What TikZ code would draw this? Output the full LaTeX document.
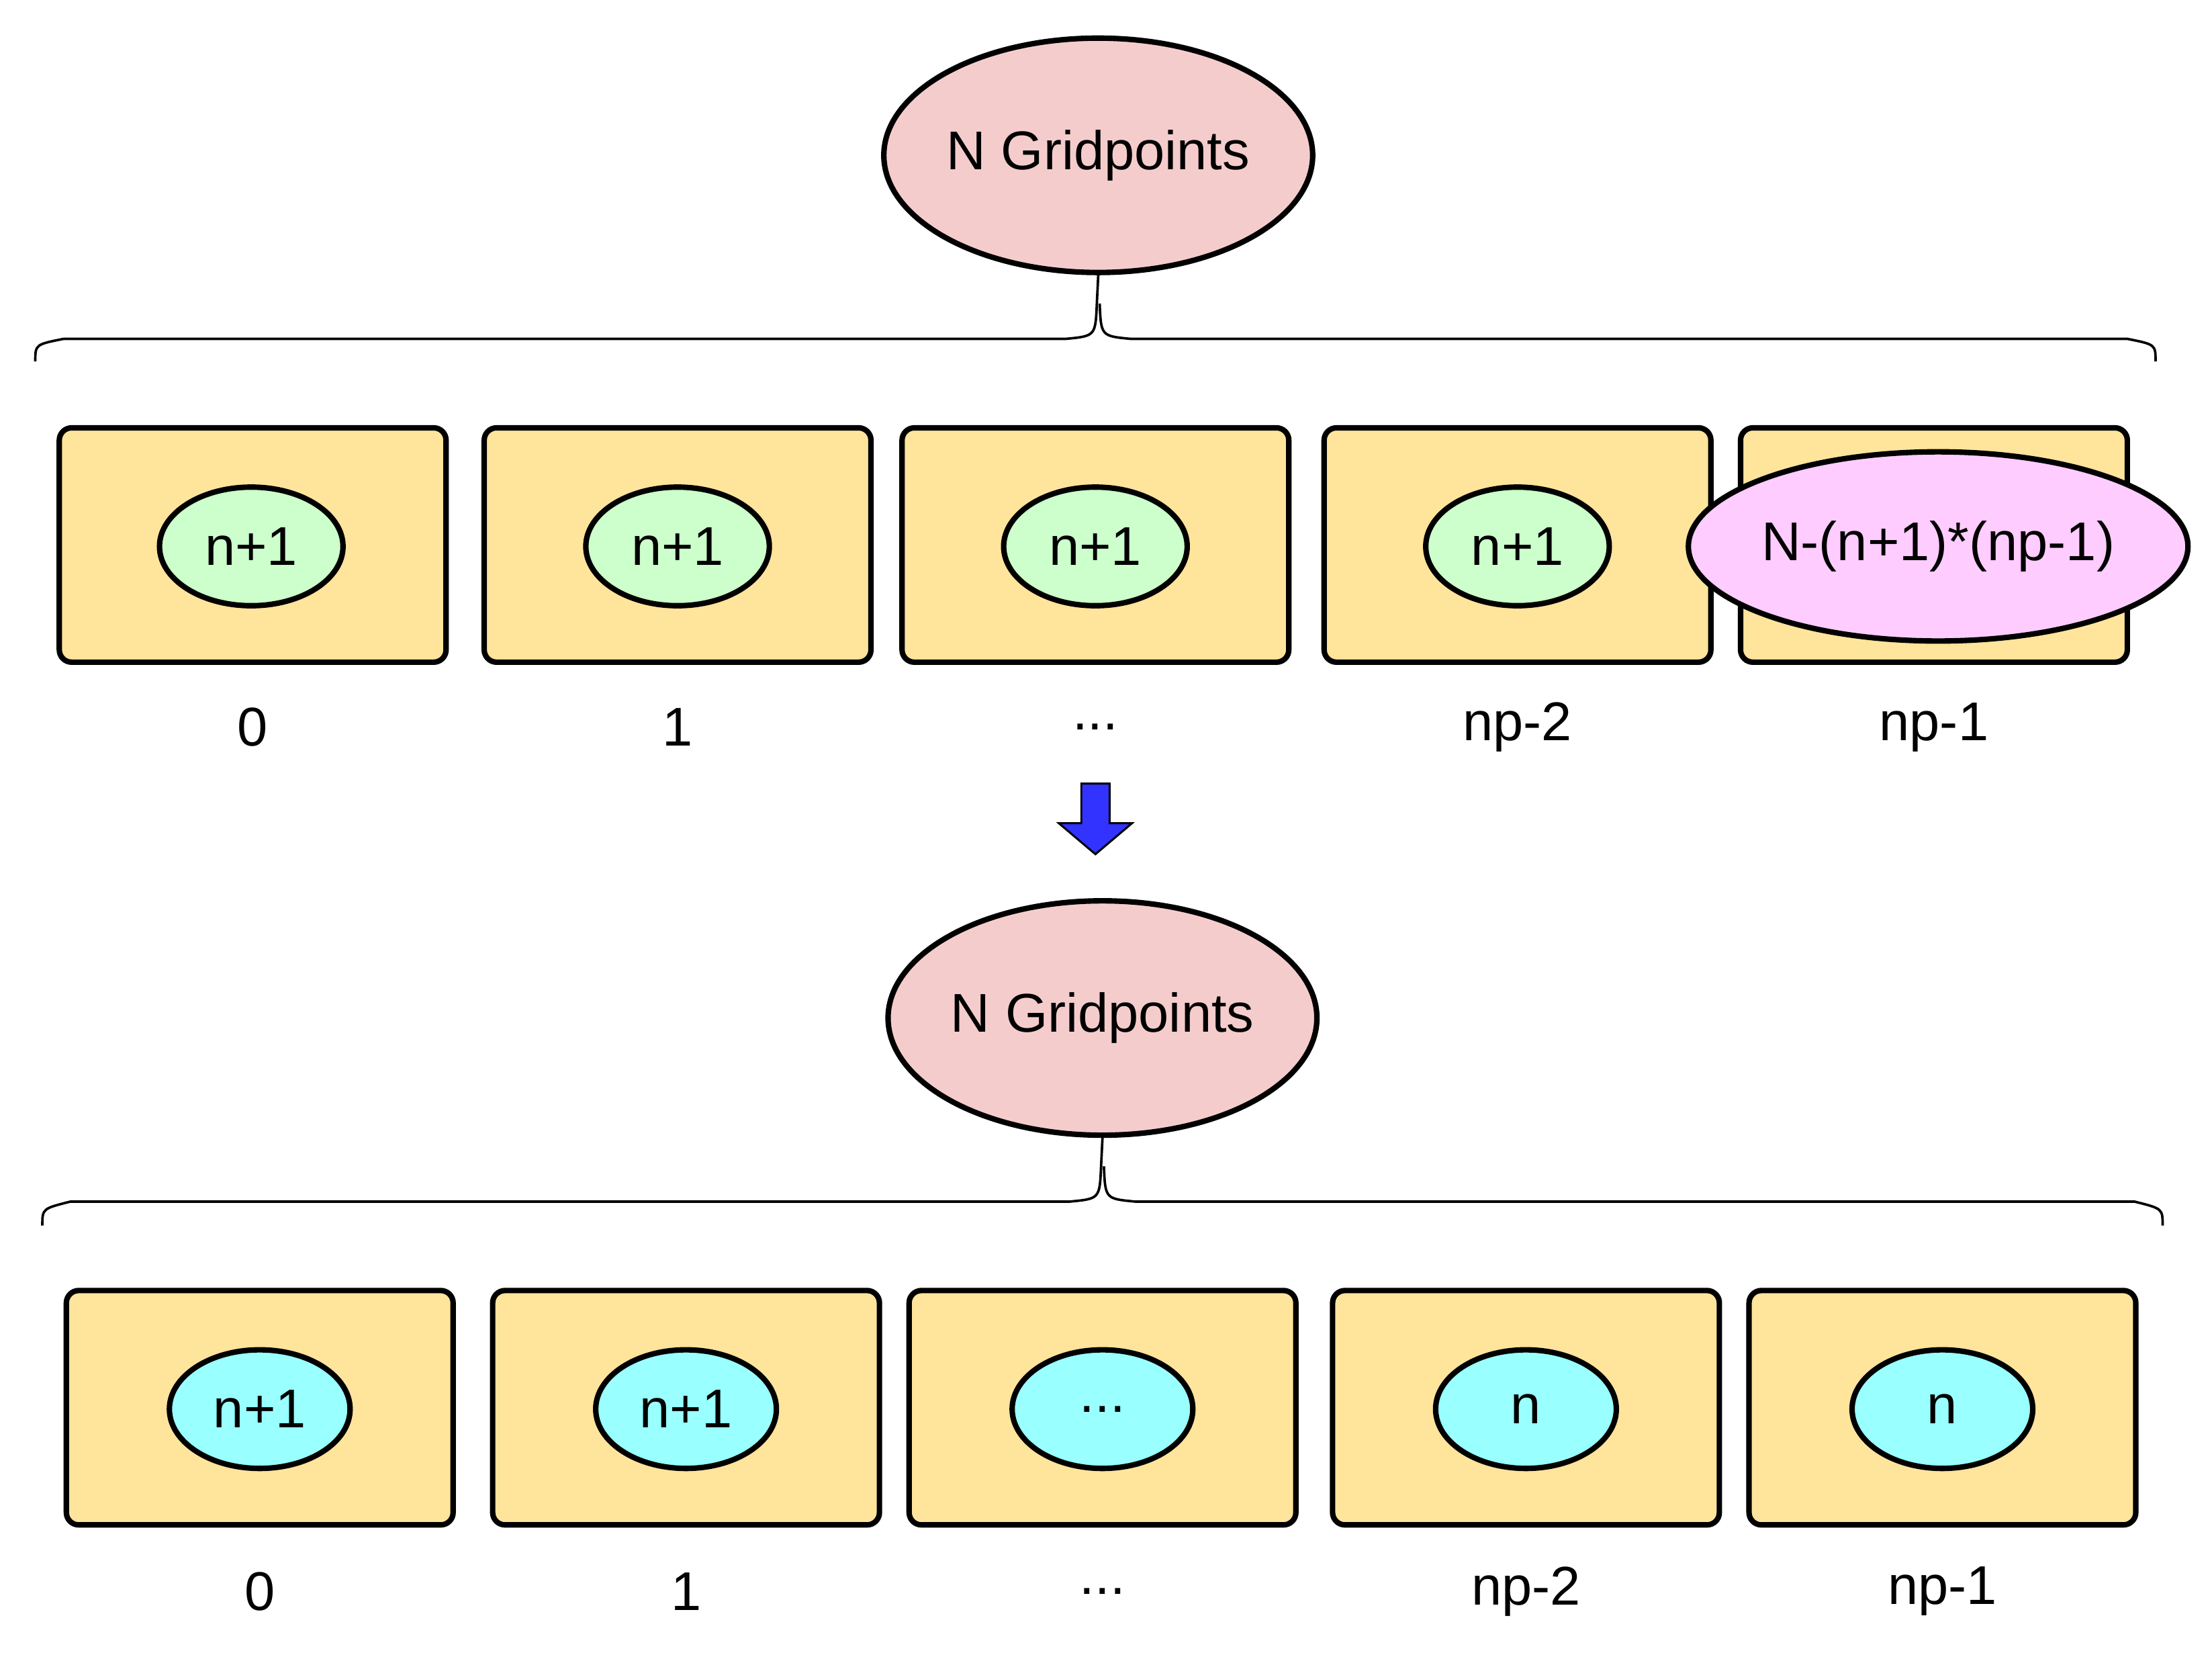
\documentclass[tikz,border=0pt]{standalone}
\usepackage{fontspec}
\setmainfont{Liberation Sans}
\usetikzlibrary{shapes.geometric}
\definecolor{gpink}{HTML}{F5CCCC}
\definecolor{boxy}{HTML}{FFE49C}
\definecolor{lgreen}{HTML}{CCFFCC}
\definecolor{lmag}{HTML}{FFCCFF}
\definecolor{lcyan}{HTML}{99FFFF}
\definecolor{arrblue}{HTML}{3333FF}
\newcommand\mydots{{.}{.}{.}}
\begin{document}
\begin{tikzpicture}[x=0.02cm,y=-0.02cm,
  font=\fontsize{22}{26}\selectfont,
  ell/.style={draw,line width=2.2pt,ellipse,inner sep=0pt},
  proc/.style={draw,line width=2.2pt,rounded corners=5pt,fill=boxy,minimum width=274*0.02cm,minimum height=166*0.02cm},
  brace/.style={line width=1pt}]
\useasboundingbox (0,0) rectangle (1567,1172);
% top half
\node[ell,fill=gpink,minimum width=276*0.02cm,minimum height=166*0.02cm] (g1) at (778,110) {N Gridpoints};
\draw[brace] (25,256) .. controls (25,244) .. (45,240) -- (755,240) .. controls (776,238) .. (777,215) -- (g1.south);
\draw[brace] (1527,256) .. controls (1527,244) .. (1507,240) -- (801,240) .. controls (780,238) .. (779,215);
\foreach \i/\x/\lab in {0/179/0,1/480/1,2/776/\mydots,3/1075/np-2,4/1370/np-1}{
  \node[proc] (a\i) at (\x,386) {};
  \node (la\i) at (\x,515) {\lab};
}
\foreach \i/\x in {0/178,1/480,2/776,3/1075}
  \node[ell,fill=lgreen,minimum width=130*0.02cm,minimum height=84*0.02cm] (e\i) at (\x,387) {n+1};
\node[ell,fill=lmag,minimum width=266*0.02cm,minimum height=134*0.02cm] (e4) at (1373,387) {N-(n+1)*(np-1)};
% arrow
\node[coordinate] (arr) at (776,555) {};
\draw[fill=arrblue,line width=0.8pt] (arr) ++(-10,0) -- ++(20,0) -- ++(0,28) -- ++(16,0) -- (776,605) -- (750,583) -- ++(16,0) -- cycle;
% bottom half
\node[ell,fill=gpink,minimum width=276*0.02cm,minimum height=166*0.02cm] (g2) at (781,721) {N Gridpoints};
\draw[brace] (30,868) .. controls (30,856) .. (50,851) -- (758,851) .. controls (779,849) .. (780,826) -- (g2.south);
\draw[brace] (1532,868) .. controls (1532,856) .. (1512,851) -- (804,851) .. controls (783,849) .. (782,826);
\foreach \i/\x/\lab/\t in {0/184/0/n+1,1/486/1/n+1,2/781/\mydots/\mydots,3/1081/np-2/n,4/1376/np-1/n}{
  \node[proc] (b\i) at (\x,997) {};
  \node[ell,fill=lcyan,minimum width=128*0.02cm,minimum height=84*0.02cm] (f\i) at (\x,998) {\t};
  \node (lb\i) at (\x,1127) {\lab};
}
\end{tikzpicture}
\end{document}
